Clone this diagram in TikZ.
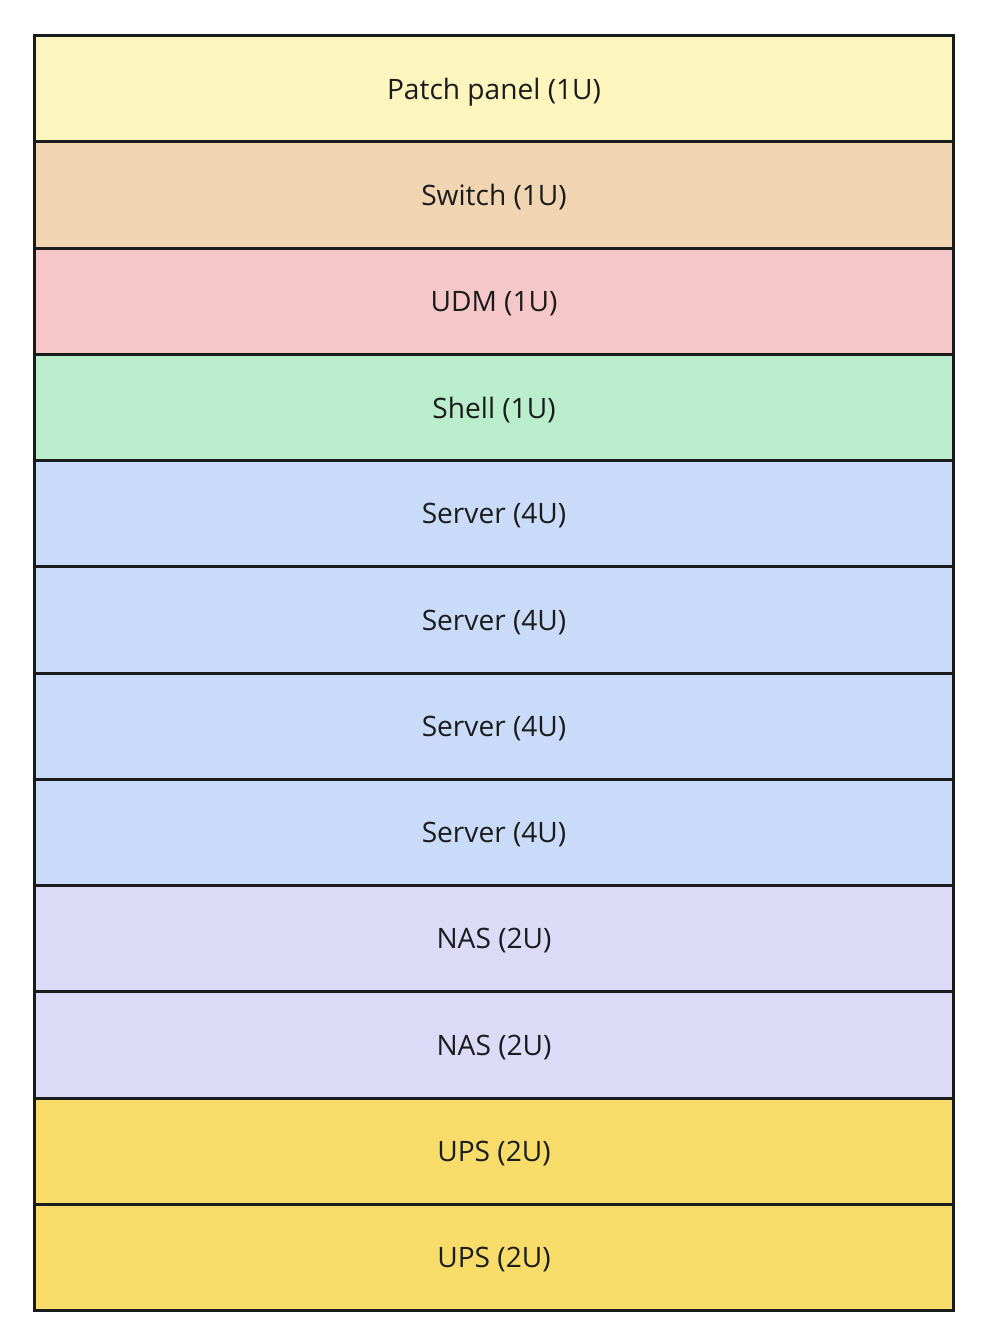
\documentclass[tikz,border=0pt]{standalone}
\usepackage{fontspec}
\setmainfont{Open Sans}
\usetikzlibrary{positioning}
\definecolor{PatchFill}{RGB}{252,245,190}
\definecolor{SwitchFill}{RGB}{241,213,178}
\definecolor{UdmFill}{RGB}{245,199,200}
\definecolor{ShellFill}{RGB}{186,237,203}
\definecolor{ServerFill}{RGB}{202,219,249}
\definecolor{NasFill}{RGB}{221,218,248}
\definecolor{UpsFill}{RGB}{247,220,106}
\definecolor{RackLine}{RGB}{26,28,27}
\newcommand{\RackWidth}{18.38cm}
\newcommand{\RackUnitHeight}{2.125cm}
\tikzset{
  slot/.style={draw=RackLine, line width=1.7pt, outer sep=0pt, inner sep=0pt,
    minimum width=\RackWidth, minimum height=\RackUnitHeight, text depth=0pt,
    font=\fontsize{16}{16}\selectfont, text=RackLine}
}

\begin{document}
\begin{tikzpicture}
\useasboundingbox (0,0) rectangle (19.8,-26.84);

\node[slot, fill=PatchFill, anchor=north west] (patch) at (0.69,-0.71) {Patch panel (1U)};
\node[slot, fill=SwitchFill, below=0pt of patch] (switch) {Switch (1U)};
\node[slot, fill=UdmFill, below=0pt of switch] (udm) {UDM (1U)};
\node[slot, fill=ShellFill, below=0pt of udm] (shell) {Shell (1U)};
\node[slot, fill=ServerFill, below=0pt of shell] (server1) {Server (4U)};
\node[slot, fill=ServerFill, below=0pt of server1] (server2) {Server (4U)};
\node[slot, fill=ServerFill, below=0pt of server2] (server3) {Server (4U)};
\node[slot, fill=ServerFill, below=0pt of server3] (server4) {Server (4U)};
\node[slot, fill=NasFill, below=0pt of server4] (nas1) {NAS (2U)};
\node[slot, fill=NasFill, below=0pt of nas1] (nas2) {NAS (2U)};
\node[slot, fill=UpsFill, below=0pt of nas2] (ups1) {UPS (2U)};
\node[slot, fill=UpsFill, below=0pt of ups1] (ups2) {UPS (2U)};

\end{tikzpicture}
\end{document}
